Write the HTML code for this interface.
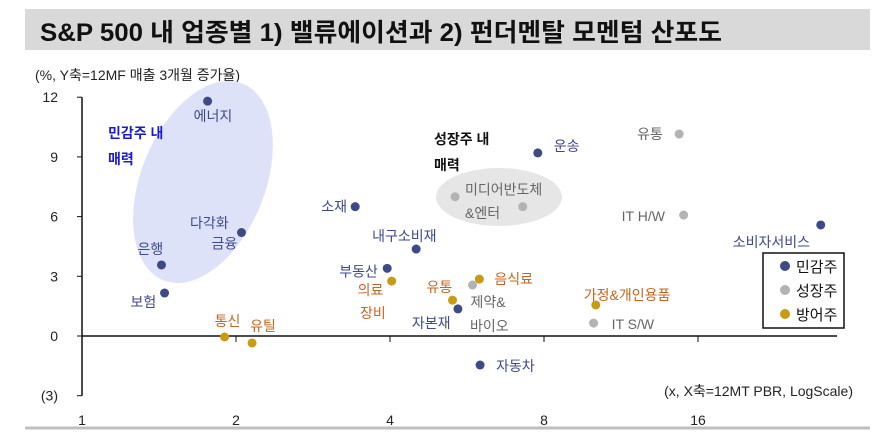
<!DOCTYPE html>
<html><head><meta charset="utf-8"><style>
body{margin:0;width:895px;height:435px;background:#fff;overflow:hidden;font-family:"Liberation Sans","Noto Sans CJK KR",sans-serif}
svg text{font-family:"Liberation Sans","Noto Sans CJK KR",sans-serif}
</style></head><body>
<svg id="chart" width="895" height="435" xmlns="http://www.w3.org/2000/svg">
<rect x="25" y="9" width="845" height="41" fill="#d9d9d9"/>
<text x="40" y="41" font-size="25" font-weight="bold" textLength="682" lengthAdjust="spacingAndGlyphs" fill="#111">S&amp;P 500 내 업종별 1) 밸류에이션과 2) 펀더멘탈 모멘텀 산포도</text>
<text x="35" y="80" font-size="14" fill="#222">(%, Y축=12MF 매출 3개월 증가율)</text>
<ellipse cx="203" cy="182" rx="62" ry="106" transform="rotate(22 203 182)" fill="#dde2f8"/>
<ellipse cx="499" cy="197" rx="63" ry="29" fill="#e6e6e6"/>
<g id="axes"></g>
<g id="marks"></g>
<text x="108" y="138" font-size="14" font-weight="bold" fill="#1a1ad0">민감주 내</text>
<text x="108" y="164" font-size="14" font-weight="bold" fill="#1a1ad0">매력</text>
<text x="434" y="144" font-size="14" font-weight="bold" fill="#111">성장주 내</text>
<text x="434" y="170" font-size="14" font-weight="bold" fill="#111">매력</text>
<text x="853" y="396" font-size="14" text-anchor="end" fill="#222">(x, X축=12MT PBR, LogScale)</text>
<g>
<rect x="763" y="253" width="81" height="75" fill="#fff" stroke="#111" stroke-width="1.5"/>
<circle cx="785" cy="266" r="5" fill="#3d4a87"/><text x="796" y="272" font-size="15" fill="#111">민감주</text>
<circle cx="785" cy="290" r="5" fill="#b3b3b3"/><text x="796" y="296" font-size="15" fill="#111">성장주</text>
<circle cx="785" cy="314" r="5" fill="#c99b12"/><text x="796" y="320" font-size="15" fill="#111">방어주</text>
</g>
<line x1="25" y1="428" x2="870" y2="428" stroke="#bfbfbf" stroke-width="3"/>
</svg>
<script>
const xTicks=[1,2,4,8,16];
const yTicks=[12,9,6,3,0,-3];
const yTickLabels=["12","9","6","3","0","(3)"];
const names=["에너지","은행","보험","금융","소재","부동산","내구소비재","자본재","자동차","운송","소비자서비스","미디어","반도체","제약바이오","유통G","IT H/W","IT S/W","통신","유틸","의료장비","유통D","음식료","가정개인용품"];
const pbr=[1.76,1.43,1.45,2.05,3.42,3.95,4.5,5.43,6.0,7.78,27.8,5.36,7.27,5.8,14.7,15.0,10.0,1.9,2.15,4.03,5.3,5.98,10.1];
const growth=[11.8,3.57,2.16,5.2,6.5,3.4,4.37,1.36,-1.46,9.2,5.58,7.0,6.5,2.56,10.15,6.08,0.65,-0.05,-0.35,2.76,1.8,2.86,1.56];
const groups=[0,0,0,0,0,0,0,0,0,0,0,1,1,1,1,1,1,2,2,2,2,2,2];
const colors=["#3d4a87","#b3b3b3","#c99b12"];
const X=v=>82+154*Math.log2(v);
const Y=v=>336-19.9*v;
const NS="http://www.w3.org/2000/svg";
function mk(t,a,p){const e=document.createElementNS(NS,t);for(const k in a)e.setAttribute(k,a[k]);p.appendChild(e);return e;}
const ax=document.getElementById('axes');
let l=mk('line',{x1:X(1),y1:Y(12),x2:X(1),y2:Y(-3),stroke:'#111','stroke-width':1.5},ax);


l=mk('line',{x1:X(1),y1:Y(0),x2:837,y2:Y(0),stroke:'#111','stroke-width':1.5},ax);


yTicks.forEach((v,i)=>{
 const t=mk('line',{x1:X(1)-5,y1:Y(v),x2:X(1),y2:Y(v),stroke:'#111'},ax);
 
 
 const tx=mk('text',{x:58,y:Y(v)+5,'font-size':14,'text-anchor':'end',fill:'#222'},ax);
 tx.textContent=yTickLabels[i];
 
 
});
xTicks.forEach(v=>{
 const t=mk('line',{x1:X(v),y1:Y(0),x2:X(v),y2:Y(0)+6,stroke:'#111'},ax);
 
 
 const tx=mk('text',{x:X(v),y:425,'font-size':14,'text-anchor':'middle',fill:'#222'},ax);
 tx.textContent=String(v);
 
 
});
const mg=document.getElementById('marks');
pbr.forEach((v,i)=>{
 const c=mk('circle',{cx:X(v),cy:Y(growth[i]),r:4.5,fill:colors[groups[i]]},mg);
 
 
});
const labs=[["에너지",-14,20,0],["은행",-24,-11,0],["보험",-34,14,0],["금융",-30,16,0],["소재",-34,5,0],["부동산",-48,8,0],["내구소비재",-44,-8,0],["자본재",-46,19,0],["자동차",16,6,0],["운송",16,-2,0],["소비자서비스",-88,22,0],
["미디어반도체",10,-2,1],["",0,0,1],["제약&",-2,22,1],["유통",-42,5,1],["IT H/W",-62,6,1],["IT S/W",18,6,1],
["통신",-10,-11,2],["유틸",-2,-12,2],["의료",-34,14,2],["유통",-26,-8,2],["음식료",15,5,2],["가정&개인용품",-12,-5,2]];
const lc=["#3d4a87","#666","#c8641e"];
labs.forEach((a,i)=>{
 if(!a[0])return;
 const t=mk('text',{x:X(pbr[i])+a[1],y:Y(growth[i])+a[2],'font-size':14,fill:lc[a[3]]},mg);
 t.textContent=a[0];
 
 
});
[["다각화",190,228,0],["&엔터",465,218,1],["바이오",470,331,1],["장비",360,318,2]].forEach(a=>{
 const t=mk('text',{x:a[1],y:a[2],'font-size':14,fill:lc[a[3]]},mg);
 t.textContent=a[0];
 
 
});
</script>
</body></html>
